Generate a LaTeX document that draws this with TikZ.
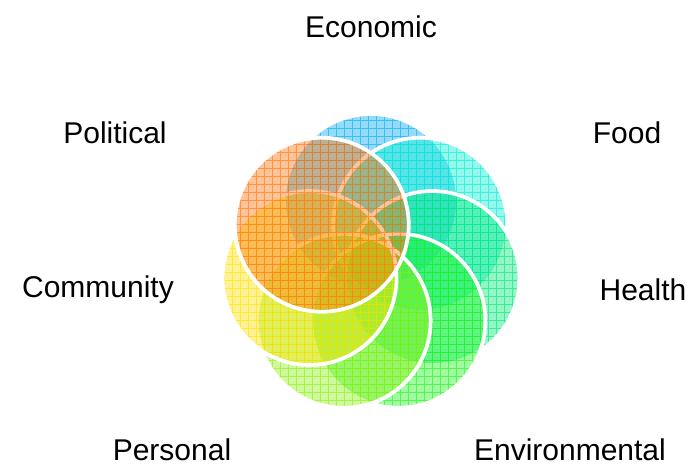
\documentclass[tikz,border=0pt]{standalone}
\usepackage{fontspec}
\setmainfont{Liberation Sans}
\usetikzlibrary{calc}

\definecolor{econcol}{RGB}{0,170,240}
\definecolor{foodcol}{RGB}{0,240,210}
\definecolor{healthcol}{RGB}{0,230,120}
\definecolor{envcol}{RGB}{30,245,30}
\definecolor{perscol}{RGB}{140,240,20}
\definecolor{commcol}{RGB}{255,225,0}
\definecolor{polcol}{RGB}{255,115,10}

\begin{document}
\begin{tikzpicture}[x=0.03cm, y=-0.03cm,
	lbl/.style={font=\fontsize{25.6}{30}\selectfont, inner sep=0pt},
	rim/.style={draw=white, line width=3.2pt}]
	\useasboundingbox (0,0) rectangle (691,466);

	% centre of the ring
	\coordinate (mid) at (371,264);

	% Petals, clockwise from the top, Political last
	\foreach \name/\ang/\col in {econ/-90/econcol, food/-38.57/foodcol,
		health/12.86/healthcol, env/64.29/envcol, pers/115.71/perscol,
		comm/167.14/commcol, pol/218.57/polcol}{
		\coordinate (\name) at ($(mid)+(\ang:63)$);
		\fill[\col, opacity=0.42] (\name) circle (2.61cm);
		\begin{scope}
			\clip (\name) circle (2.61cm);
			\draw[\col, opacity=0.6, line width=0.75pt, step=0.24cm] (180,90) grid (560,430);
		\end{scope}
		\draw[rim] (\name) circle (2.61cm);
	}

	% Labels
	\node[lbl] (economic) at (371,27) {Economic};
	\node[lbl] (food) at (627,133) {Food};
	\node[lbl] (health) at (643,290) {Health};
	\node[lbl] (environmental) at (570,450) {Environmental};
	\node[lbl] (personal) at (172,450) {Personal};
	\node[lbl] (community) at (98,290) {Community};
	\node[lbl] (political) at (115,133) {Political};

\end{tikzpicture}
\end{document}
